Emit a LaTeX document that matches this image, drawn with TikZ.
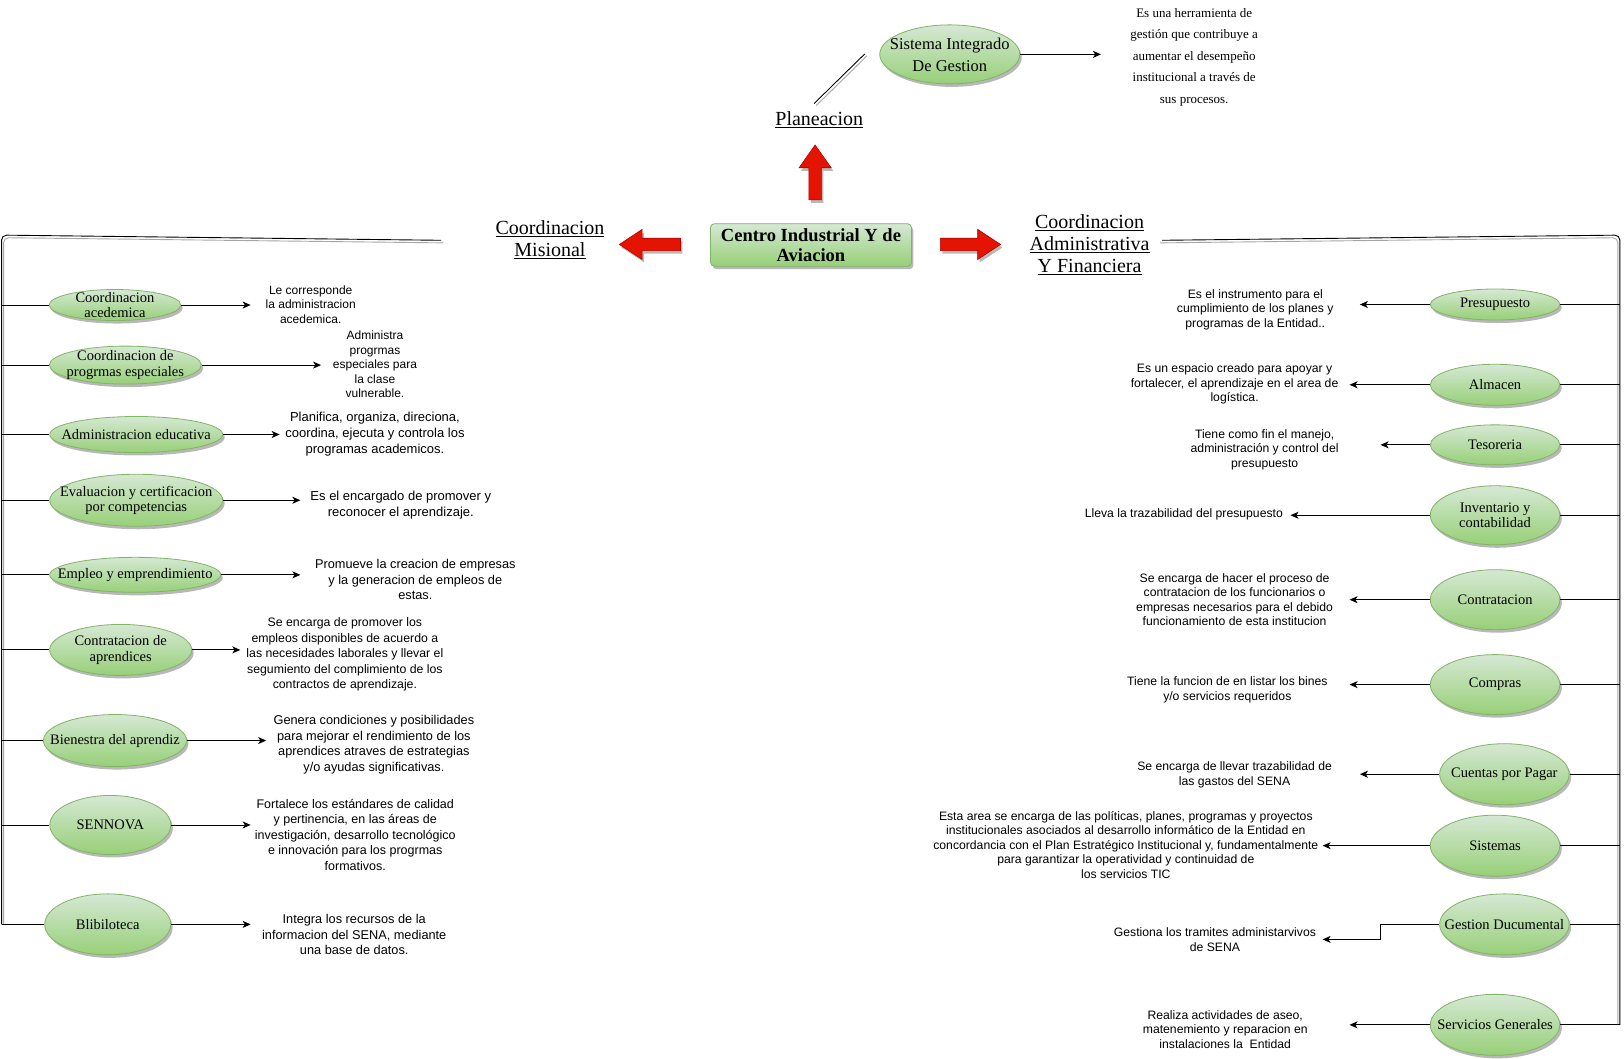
\documentclass[tikz,border=0pt]{standalone}
\usepackage{fontspec}
\setmainfont{Liberation Serif}
\newfontfamily\descfont{Liberation Sans}
\usetikzlibrary{shapes.geometric,shadows,arrows.meta}

\definecolor{gfill}{HTML}{D5E8D4}
\definecolor{gdark}{HTML}{97D077}
\definecolor{gline}{HTML}{82B366}
\definecolor{rfill}{HTML}{E51400}
\definecolor{rline}{HTML}{B20000}

\tikzset{
  softshadow/.style={drop shadow={shadow xshift=2pt, shadow yshift=-3pt, opacity=0.28, fill=black}},
  oval/.style={ellipse, draw=gline, line width=0.8pt, top color=gfill, bottom color=gdark,
    inner sep=0pt, softshadow},
  ovaltext/.style={align=center, font=\fontsize{14.5}{15.5}\selectfont, inner sep=0pt},
  mainbox/.style={rectangle, rounded corners=4pt, draw=gline, line width=0.8pt,
    top color=gfill, bottom color=gdark, inner sep=0pt, softshadow, align=center,
    font=\bfseries\fontsize{18.5}{20}\selectfont},
  heading/.style={align=center, font=\fontsize{20}{22}\selectfont, inner sep=0pt},
  descl/.style={align=center, inner sep=0pt, font=\descfont\fontsize{#1}{15.5}\selectfont},
  descr/.style={align=center, inner sep=0pt, font=\descfont\fontsize{12.2}{14.5}\selectfont},
  serifdesc/.style={align=center, inner sep=0pt, font=\fontsize{13}{21.5}\selectfont},
  link/.style={draw=black, line width=0.9pt},
  ghost/.style={draw=black!35, line width=0.9pt},
  arr/.style={link, -{Stealth[length=8pt,width=7pt,inset=2.2pt]}},
  blockarrow/.style={fill=rfill, draw=rline, line width=0.6pt, softshadow},
}

\begin{document}
\begin{tikzpicture}[x=1.0357pt, y=-1.0357pt]
\useasboundingbox[fill=white] (0,0) rectangle (1568,1022);

% ---------- centre and the three branches ----------
\node[mainbox, minimum width=201pt, minimum height=42.5pt] (cia) at (783,236.5)
  {Centro Industrial Y de\\Aviacion};

\path[blockarrow] (781,193) -- (781,162) -- (771.5,162) -- (787,140)
  -- (802.5,162) -- (793,162) -- (793,193) -- cycle;
\path[blockarrow] (657,230) -- (620,230) -- (620,221.5) -- (598,236)
  -- (620,250.5) -- (620,242) -- (657,242) -- cycle;
\path[blockarrow] (908,230) -- (944,230) -- (944,221.5) -- (966,236)
  -- (944,250.5) -- (944,242) -- (908,242) -- cycle;

\node[heading] (plan) at (791,116) {\underline{Planeacion}};
\node[heading] (mis) at (531,231.5) {\underline{Coordinacion}\\\underline{Misional}};
\node[heading] (adm) at (1052,236)
  {\underline{Coordinacion}\\\underline{Administrativa}\\\underline{Y Financiera}};

% ---------- planeacion ----------
\node[oval, minimum width=140pt, minimum height=59pt] (sig) at (917,52.5) {};
\node[ovaltext, font=\fontsize{16.5}{22}\selectfont] (sigt) at (sig) {Sistema Integrado\\De Gestion};
\coordinate (pl1) at (786,100);
\coordinate (pl2) at (835,52);
\draw[ghost] ([shift={(2,2)}]pl1) -- ([shift={(2,2)}]pl2);
\draw[link] (pl1) -- (pl2);
\node[serifdesc] (sigd) at (1153,55)
  {Es una herramienta de\\gestión que contribuye a\\aumentar el desempeño\\institucional a través de\\sus procesos.};
\coordinate (sigtip) at (1063,52.5);
\draw[arr] (sig.east) -- (sigtip);

% ---------- left bracket ----------
\coordinate (lbA) at (426,232);
\coordinate (lbC) at (1.5,227);
\coordinate (lbB) at (1.5,892.5);
\draw[ghost, rounded corners=5pt] ([shift={(2,2.5)}]lbA) -- ([shift={(2,2.5)}]lbC) -- ([shift={(2,0)}]lbB);
\draw[link, rounded corners=5pt] (lbA) -- (lbC) -- (lbB);

% ---------- right bracket ----------
\coordinate (rbA) at (1122,232);
\coordinate (rbC) at (1564,227);
\coordinate (rbB) at (1564,989.5);
\draw[ghost, rounded corners=5pt] ([shift={(-2,2.5)}]rbA) -- ([shift={(-2,2.5)}]rbC) -- ([shift={(-2,0)}]rbB);
\draw[link, rounded corners=5pt] (rbA) -- (rbC) -- (rbB);

% ---------- Coordinacion Misional ----------
\node[oval, minimum width=131.5pt, minimum height=31pt] (L1) at (111,294.5) {};
\node[ovaltext] (L1t) at (L1) {Coordinacion\\acedemica};
\node[oval, minimum width=152pt, minimum height=38pt] (L2) at (121,352.5) {};
\node[ovaltext] (L2t) at (L2) {Coordinacion de\\progrmas especiales};
\node[oval, minimum width=173pt, minimum height=36pt] (L3) at (131.5,419.5) {};
\node[ovaltext] (L3t) at (L3) {Administracion educativa};
\node[oval, minimum width=173pt, minimum height=52pt] (L4) at (131.5,483) {};
\node[ovaltext] (L4t) at (L4) {Evaluacion y certificacion\\por competencias};
\node[oval, minimum width=171pt, minimum height=35pt] (L5) at (130.5,555) {};
\node[ovaltext] (L5t) at (L5) {Empleo y emprendimiento};
\node[oval, minimum width=142pt, minimum height=51pt] (L6) at (116.5,627.5) {};
\node[ovaltext] (L6t) at (L6) {Contratacion de\\aprendices};
\node[oval, minimum width=143pt, minimum height=52pt] (L7) at (111,715) {};
\node[ovaltext] (L7t) at (L7) {Bienestra del aprendiz};
\node[oval, minimum width=121pt, minimum height=59pt] (L8) at (106.5,796.5) {};
\node[ovaltext] (L8t) at (L8) {SENNOVA};
\node[oval, minimum width=126pt, minimum height=61pt] (L9) at (104,892.5) {};
\node[ovaltext] (L9t) at (L9) {Blibiloteca};

\foreach \n in {1,...,9} {
  \draw[link] (L\n.west -| lbC) -- (L\n.west);
}

\node[descl=12, font=\descfont\fontsize{12}{14.5}\selectfont] (D1) at (300,294)
  {Le corresponde\\la administracion\\acedemica.};
\node[descl=12, font=\descfont\fontsize{12}{14.5}\selectfont] (D2) at (362,352)
  {Administra\\progrmas\\especiales para\\la clase\\vulnerable.};
\node[descl=13, font=\descfont\fontsize{13}{16}\selectfont] (D3) at (362,419.5)
  {Planifica, organiza, direciona,\\coordina, ejecuta y controla los\\programas academicos.};
\node[descl=13] (D4) at (387,487.5)
  {Es el encargado de promover y\\reconocer el aprendizaje.};
\node[descl=12.75] (D5) at (401,559.5)
  {Promueve la creacion de empresas\\y la generacion de empleos de\\estas.};
\node[descl=12.3] (D6) at (333,632)
  {Se encarga de promover los\\empleos disponibles de acuerdo a\\las necesidades laborales y llevar el\\segumiento del complimiento de los\\contractos de aprendizaje.};
\node[descl=12.75] (D7) at (361,719)
  {Genera condiciones y posibilidades\\para mejorar el rendimiento de los\\aprendices atraves de estrategias\\y/o ayudas significativas.};
\node[descl=12.5] (D8) at (343,806)
  {Fortalece los estándares de calidad\\y pertinencia, en las áreas de\\investigación, desarrollo tecnológico\\e innovación para los progrmas\\formativos.};
\node[descl=12.75] (D9) at (342,902.5)
  {Integra los recursos de la\\informacion del SENA, mediante\\una base de datos.};

\coordinate (T1) at (242,294.5);
\coordinate (T2) at (310,352.5);
\coordinate (T3) at (270,419.5);
\coordinate (T4) at (290,483);
\coordinate (T5) at (290,555);
\coordinate (T6) at (232,627.5);
\coordinate (T7) at (257,715);
\coordinate (T8) at (242,796.5);
\coordinate (T9) at (242,892.5);
\foreach \n in {1,...,9} {
  \draw[arr] (L\n.east) -- (T\n);
}

% ---------- Coordinacion Administrativa y Financiera ----------
\node[oval, minimum width=129.5pt, minimum height=31pt] (R1) at (1443.5,294) {};
\node[ovaltext] (R1t) at (R1) {Presupuesto};
\node[oval, minimum width=129.5pt, minimum height=41pt] (R2) at (1443.5,371.5) {};
\node[ovaltext] (R2t) at (R2) {Almacen};
\node[oval, minimum width=129.5pt, minimum height=40pt] (R3) at (1443.5,429.5) {};
\node[ovaltext] (R3t) at (R3) {Tesoreria};
\node[oval, minimum width=129.5pt, minimum height=59pt] (R4) at (1443.5,497.5) {};
\node[ovaltext] (R4t) at (R4) {Inventario y\\contabilidad};
\node[oval, minimum width=129.5pt, minimum height=60pt] (R5) at (1443.5,579) {};
\node[ovaltext] (R5t) at (R5) {Contratacion};
\node[oval, minimum width=129.5pt, minimum height=60pt] (R6) at (1443.5,661) {};
\node[ovaltext] (R6t) at (R6) {Compras};
\node[oval, minimum width=129.5pt, minimum height=61pt] (R7) at (1452.5,747.5) {};
\node[ovaltext] (R7t) at (R7) {Cuentas por Pagar};
\node[oval, minimum width=129.5pt, minimum height=61pt] (R8) at (1443.5,816.5) {};
\node[ovaltext] (R8t) at (R8) {Sistemas};
\node[oval, minimum width=129.5pt, minimum height=61pt] (R9) at (1452.5,892.5) {};
\node[ovaltext] (R9t) at (R9) {Gestion Ducumental};
\node[oval, minimum width=129.5pt, minimum height=61pt] (R10) at (1443.5,989.5) {};
\node[ovaltext] (R10t) at (R10) {Servicios Generales};

\foreach \n in {1,...,10} {
  \draw[link] (R\n.east) -- (R\n.east -| rbC);
}

\node[descr] (E1) at (1212,299)
  {Es el instrumento para el\\cumplimiento de los planes y\\programas de la Entidad..};
\node[descr] (E2) at (1192,371)
  {Es un espacio creado para apoyar y\\fortalecer, el aprendizaje en el area de\\logística.};
\node[descr] (E3) at (1221,434)
  {Tiene como fin el manejo,\\administración y control del\\presupuesto};
\node[descr] (E4) at (1143,497)
  {Lleva la trazabilidad del presupuesto};
\node[descr] (E5) at (1192,579)
  {Se encarga de hacer el proceso de\\contratacion de los funcionarios o\\empresas necesarios para el debido\\funcionamiento de esta institucion};
\node[descr] (E6) at (1185,666)
  {Tiene la funcion de en listar los bines\\y/o servicios requeridos};
\node[descr] (E7) at (1192,748)
  {Se encarga de llevar trazabilidad de\\las gastos del SENA};
\node[descr] (E8) at (1087,815.5)
  {Esta area se encarga de las políticas, planes, programas y proyectos\\institucionales asociados al desarrollo informático de la Entidad en\\concordancia con el Plan Estratégico Institucional y, fundamentalmente\\para garantizar la operatividad y continuidad de\\los servicios TIC};
\node[descr] (E9) at (1173,907)
  {Gestiona los tramites administarvivos\\de SENA};
\node[descr] (E10) at (1183,994)
  {Realiza actividades de aseo,\\matenemiento y reparacion en\\instalaciones la\ \ Entidad};

\coordinate (S1) at (1313,294);
\coordinate (S2) at (1303,371.5);
\coordinate (S3) at (1333,429.5);
\coordinate (S4) at (1246,497.5);
\coordinate (S5) at (1303,579);
\coordinate (S6) at (1303,661);
\coordinate (S7) at (1313,747.5);
\coordinate (S8) at (1277,816.5);
\coordinate (S10) at (1303,989.5);
\foreach \n in {1,...,8,10} {
  \draw[arr] (R\n.west) -- (S\n);
}
\coordinate (S9bend) at (1333,892.5);
\coordinate (S9) at (1277,907);
\draw[arr] (R9.west) -- (S9bend) |- (S9);

\end{tikzpicture}
\end{document}
